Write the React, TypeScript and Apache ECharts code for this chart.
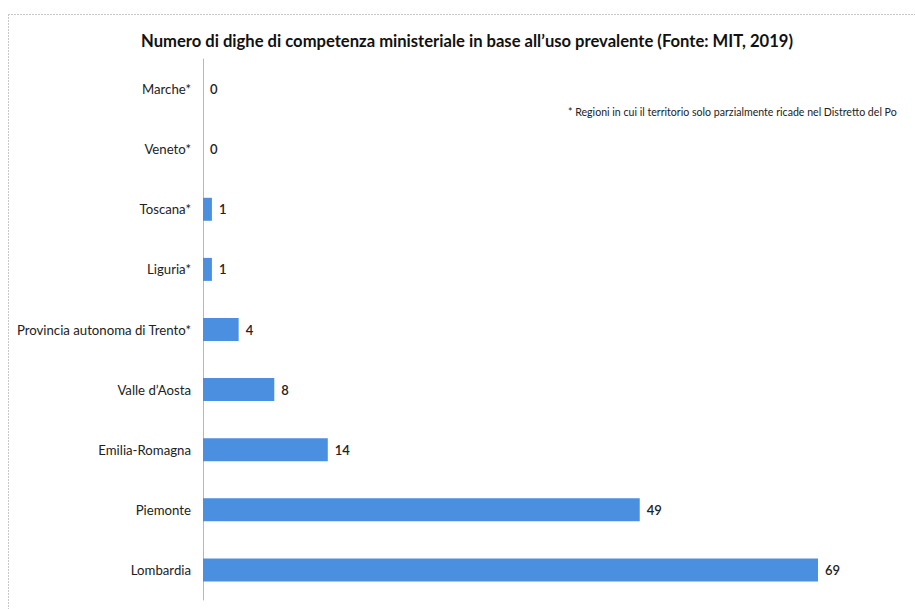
import React, { useEffect, useRef } from "react";
import * as echarts from "echarts";

const categories = [
  "Marche*",
  "Veneto*",
  "Toscana*",
  "Liguria*",
  "Provincia autonoma di Trento*",
  "Valle d\u2019Aosta",
  "Emilia-Romagna",
  "Piemonte",
  "Lombardia",
];
const values = [0, 0, 1, 1, 4, 8, 14, 49, 69];
const titleText =
  "Numero di dighe di competenza ministeriale in base all\u2019uso prevalente (Fonte: MIT, 2019)";
const noteText =
  "* Regioni in cui il territorio solo parzialmente ricade nel Distretto del Po";

export default function App() {
  const ref = useRef<HTMLDivElement>(null);
  useEffect(() => {
    if (!ref.current) return;
    const chart = echarts.init(ref.current, null, { renderer: "svg" });
    const font = "Lato, 'Open Sans', sans-serif";
    chart.setOption({
      animation: false,
      backgroundColor: "#ffffff",
      textStyle: { fontFamily: font },
      title: {
        text: titleText,
        left: 462,
        top: 27,
        textAlign: "center",
        textStyle: { fontFamily: font, fontSize: 16.6, fontWeight: "bold", color: "#111" },
      },
      graphic: [
        {
          type: "line",
          shape: { x1: 8, y1: 14.5, x2: 915, y2: 14.5 },
          style: { stroke: "#c8c8c8", lineWidth: 1, lineDash: [2, 1] },
        },
        {
          type: "line",
          shape: { x1: 8.5, y1: 14, x2: 8.5, y2: 609 },
          style: { stroke: "#c8c8c8", lineWidth: 1, lineDash: [2, 1] },
        },
        {
          type: "text",
          left: 568,
          top: 106,
          style: { text: noteText, fontFamily: font, fontSize: 10.6, fill: "#222" },
        },
      ],
      grid: { left: 203, top: 59, width: 615, height: 541, containLabel: false },
      xAxis: {
        type: "value",
        min: 0,
        max: 69,
        show: false,
      },
      yAxis: {
        type: "category",
        data: categories,
        inverse: true,
        axisLine: { show: true, lineStyle: { color: "#b8b8b8", width: 1 } },
        axisTick: { show: false },
        axisLabel: { fontFamily: font, fontSize: 13.2, color: "#222", margin: 12 },
        splitLine: { show: false },
      },
      series: [
        {
          type: "bar",
          data: values,
          barWidth: 23,
          itemStyle: { color: "#4a8fe0" },
          label: {
            show: true,
            position: "right",
            distance: 7,
            fontFamily: font,
            fontSize: 13,
            fontWeight: 600,
            color: "#222",
          },
        },
      ],
    });
    return () => chart.dispose();
  }, []);
  return (
    <div
      ref={ref}
      style={{ position: "absolute", left: 0, top: 0, width: 915, height: 609 }}
    />
  );
}
